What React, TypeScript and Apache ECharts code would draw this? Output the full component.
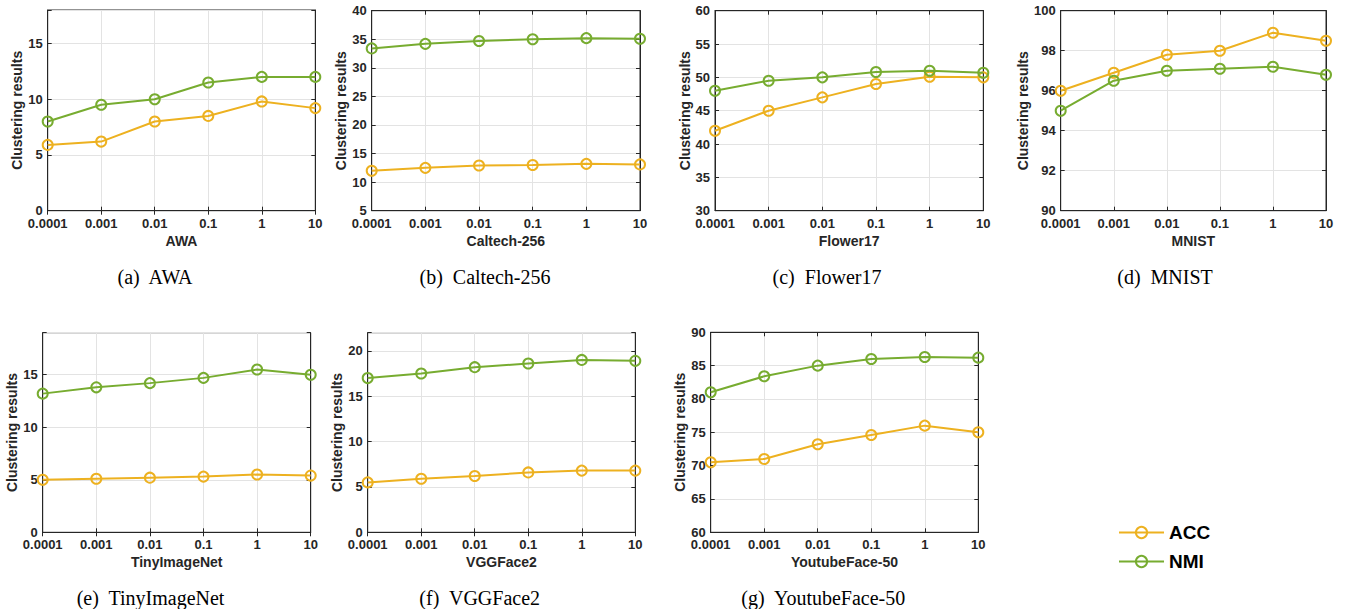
import React, { useEffect, useRef } from "react";
import * as echarts from "echarts";

const xLabels = ["0.0001", "0.001", "0.01", "0.1", "1", "10"];

const datasetNames = ["AWA", "Caltech-256", "Flower17", "MNIST", "TinyImageNet", "VGGFace2", "YoutubeFace-50"];
const captions = ["(a)  AWA", "(b)  Caltech-256", "(c)  Flower17", "(d)  MNIST", "(e)  TinyImageNet", "(f)  VGGFace2", "(g)  YoutubeFace-50"];

const awaAcc = [5.9, 6.2, 8.0, 8.5, 9.8, 9.2];
const awaNmi = [8.0, 9.5, 10.0, 11.5, 12.0, 12.0];
const caltechAcc = [12.0, 12.5, 12.9, 13.0, 13.2, 13.1];
const caltechNmi = [33.4, 34.2, 34.7, 35.0, 35.2, 35.1];
const flowerAcc = [42.0, 45.0, 47.0, 49.0, 50.1, 50.0];
const flowerNmi = [48.0, 49.5, 50.0, 50.8, 51.0, 50.7];
const mnistAcc = [96.0, 96.9, 97.8, 98.0, 98.9, 98.5];
const mnistNmi = [95.0, 96.5, 97.0, 97.1, 97.2, 96.8];
const tinyAcc = [5.0, 5.1, 5.2, 5.3, 5.5, 5.4];
const tinyNmi = [13.2, 13.8, 14.2, 14.7, 15.5, 15.0];
const vggAcc = [5.5, 5.9, 6.2, 6.6, 6.8, 6.8];
const vggNmi = [17.0, 17.5, 18.2, 18.6, 19.0, 18.9];
const ytfAcc = [70.5, 71.0, 73.2, 74.6, 76.0, 75.0];
const ytfNmi = [81.0, 83.4, 85.0, 86.0, 86.3, 86.2];

const accSeries = [awaAcc, caltechAcc, flowerAcc, mnistAcc, tinyAcc, vggAcc, ytfAcc];
const nmiSeries = [awaNmi, caltechNmi, flowerNmi, mnistNmi, tinyNmi, vggNmi, ytfNmi];

const yMin = [0, 5, 30, 90, 0, 0, 60];
const yMax = [18, 40, 60, 100, 19, 22, 90];
const yStep = [5, 5, 5, 2, 5, 5, 5];

// layout (pixels)
const grids = [
  { left: 47.7, top: 10, width: 267.6, height: 200.7 },
  { left: 371.7, top: 10.7, width: 268.3, height: 200 },
  { left: 715, top: 10.7, width: 268.3, height: 200 },
  { left: 1060.7, top: 10.7, width: 265.3, height: 200 },
  { left: 42.7, top: 332.7, width: 268, height: 199.6 },
  { left: 367.7, top: 332.7, width: 267.6, height: 199.6 },
  { left: 710.7, top: 332.3, width: 267.6, height: 200 },
];
const captionPos = [
  [155, 277], [485, 277], [827, 277], [1165, 277],
  [150.5, 597.5], [479.7, 598], [823.3, 597.5],
];

const ACC_COLOR = "#EDB120";
const NMI_COLOR = "#77AC30";
const AX = "#262626";
const SANS = "Liberation Sans, Arial, Helvetica, sans-serif";
const SERIF = "Liberation Serif, Times New Roman, serif";

export default function App() {
  const ref = useRef<HTMLDivElement>(null);
  useEffect(() => {
    if (!ref.current) return;
    const chart = echarts.init(ref.current, undefined, { renderer: "svg" });
    const xAxis: any[] = [];
    const yAxis: any[] = [];
    const series: any[] = [];
    const graphic: any[] = [];
    grids.forEach((g, i) => {
      xAxis.push({
        type: "category",
        gridIndex: i,
        data: xLabels,
        boundaryGap: false,
        position: "bottom",
        name: datasetNames[i],
        nameLocation: "middle",
        nameGap: 23,
        nameTextStyle: { fontFamily: SANS, fontWeight: "bold", fontSize: 14, color: AX },
        axisLine: { lineStyle: { color: AX, width: 1 } },
        axisTick: { inside: true, length: 4, lineStyle: { color: AX } },
        axisLabel: { fontFamily: SANS, fontWeight: "bold", fontSize: 13, color: AX, margin: 6, showMinLabel: true, showMaxLabel: true, interval: 0 },
        splitLine: { show: true, lineStyle: { color: "#e3e3e3", width: 1 } },
      });
      xAxis.push({
        type: "category",
        gridIndex: i,
        data: xLabels,
        boundaryGap: false,
        position: "top",
        axisLine: { lineStyle: { color: AX, width: 1 } },
        axisTick: { inside: true, length: 4, lineStyle: { color: AX } },
        axisLabel: { show: false },
        splitLine: { show: false },
      });
      const step = yStep[i];
      yAxis.push({
        type: "value",
        gridIndex: i,
        min: yMin[i],
        max: yMax[i],
        interval: step,
        position: "left",
        name: "Clustering results",
        nameLocation: "middle",
        nameGap: 23,
        nameTextStyle: { fontFamily: SANS, fontWeight: "bold", fontSize: 14, color: AX },
        axisLine: { show: true, lineStyle: { color: AX, width: 1 } },
        axisTick: { show: true, inside: true, length: 4, lineStyle: { color: AX } },
        axisLabel: {
          fontFamily: SANS, fontWeight: "bold", fontSize: 13, color: AX, margin: 5,
          formatter: (v: number) => (Math.abs(v / step - Math.round(v / step)) < 1e-6 ? String(v) : ""),
        },
        splitLine: { show: true, lineStyle: { color: "#e3e3e3", width: 1 } },
      });
      yAxis.push({
        type: "value",
        gridIndex: i,
        min: yMin[i],
        max: yMax[i],
        interval: step,
        position: "right",
        axisLine: { show: true, lineStyle: { color: AX, width: 1 } },
        axisTick: { show: true, inside: true, length: 4, lineStyle: { color: AX } },
        axisLabel: { show: false },
        splitLine: { show: false },
      });
      series.push({
        type: "line",
        name: "ACC",
        xAxisIndex: 2 * i,
        yAxisIndex: 2 * i,
        data: accSeries[i],
        symbol: "circle",
        symbolSize: 10,
        lineStyle: { color: ACC_COLOR, width: 2 },
        itemStyle: { color: "rgba(255,255,255,0)", borderColor: ACC_COLOR, borderWidth: 2 },
        z: 3,
      });
      series.push({
        type: "line",
        name: "NMI",
        xAxisIndex: 2 * i,
        yAxisIndex: 2 * i,
        data: nmiSeries[i],
        symbol: "circle",
        symbolSize: 10,
        lineStyle: { color: NMI_COLOR, width: 2 },
        itemStyle: { color: "rgba(255,255,255,0)", borderColor: NMI_COLOR, borderWidth: 2 },
        z: 4,
      });
      graphic.push({
        type: "text",
        x: captionPos[i][0],
        y: captionPos[i][1],
        style: {
          text: captions[i],
          font: `20px ${SERIF}`,
          fill: "#000",
          align: "center",
          verticalAlign: "middle",
        },
      });
    });
    chart.setOption({
      animation: false,
      backgroundColor: "#fff",
      grid: grids.map((g) => ({ ...g, show: true, borderColor: AX, borderWidth: 1, backgroundColor: "transparent" })),
      xAxis,
      yAxis,
      series,
      graphic,
      legend: {
        orient: "vertical",
        left: 1113,
        top: 518,
        itemWidth: 45,
        itemHeight: 14,
        itemGap: 10,
        selectedMode: false,
        data: ["ACC", "NMI"],
        textStyle: { fontFamily: SANS, fontWeight: "bold", fontSize: 19, color: "#000" },
      },
    });
    return () => chart.dispose();
  }, []);
  return (
    <div
      ref={ref}
      style={{ position: "fixed", left: 0, top: 0, width: 1361, height: 609 }}
    />
  );
}
